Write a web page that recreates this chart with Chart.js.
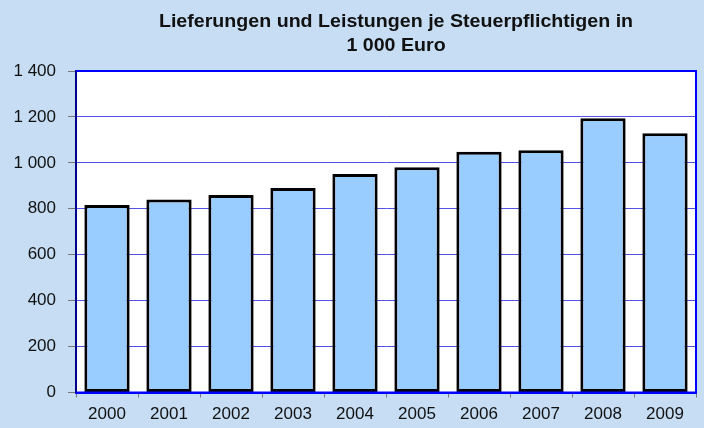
<!DOCTYPE html>
<html>
<head>
<meta charset="utf-8">
<script src="https://cdn.jsdelivr.net/npm/chart.js@4/dist/chart.umd.min.js"></script>
<style>
  html, body { margin: 0; padding: 0; background: #C6DDF3; }
  #wrap { width: 704px; height: 428px; }
</style>
</head>
<body>
<div id="wrap"><canvas id="c" width="704" height="428"></canvas></div>
<script>
const titleLines = ["Lieferungen und Leistungen je Steuerpflichtigen in", "1 000 Euro"];
const years = ["2000","2001","2002","2003","2004","2005","2006","2007","2008","2009"];
const values = [816, 840, 860, 890, 951, 981, 1048, 1055, 1194, 1129];
const yTicks = [0, 200, 400, 600, 800, 1000, 1200, 1400];

const FONT = "'Liberation Sans', Arial, sans-serif";

const bgPlugin = {
  id: 'bg',
  beforeDraw(chart) {
    const ctx = chart.ctx, a = chart.chartArea;
    ctx.save();
    ctx.fillStyle = '#C6DDF3';
    ctx.fillRect(0, 0, chart.width, chart.height);
    ctx.fillStyle = '#FFFFFF';
    ctx.fillRect(a.left, a.top, a.right - a.left, a.bottom - a.top);
    ctx.restore();
  },
  afterDatasetsDraw(chart) {
    const ctx = chart.ctx, a = chart.chartArea;
    ctx.save();
    ctx.strokeStyle = '#0000FF';
    ctx.lineWidth = 2;
    ctx.beginPath();
    ctx.moveTo(a.left, a.top);
    ctx.lineTo(a.right, a.top);
    ctx.lineTo(a.right, a.bottom);
    ctx.lineTo(a.left, a.bottom);
    ctx.stroke();
    ctx.restore();
  },
  afterDraw(chart) {
    const ctx = chart.ctx;
    ctx.save();
    ctx.fillStyle = '#111111';
    ctx.font = "bold 18px " + FONT;
    ctx.textAlign = 'center';
    ctx.textBaseline = 'middle';
    ctx.translate(396, 0);
    ctx.scale(1.09, 1);
    titleLines.forEach((t, i) => ctx.fillText(t, 0, 22 + i * 24));
    ctx.restore();
  }
};

new Chart(document.getElementById('c'), {
  type: 'bar',
  data: {
    labels: years,
    datasets: [{
      data: values,
      backgroundColor: '#99CCFF',
      borderColor: '#000000',
      borderWidth: 3,
      borderSkipped: false,
      categoryPercentage: 1,
      barPercentage: 0.73
    }]
  },
  options: {
    responsive: false,
    animation: false,
    devicePixelRatio: 1,
    layout: { padding: { top: 71, right: 8, left: 0, bottom: 0 } },
    plugins: { legend: { display: false }, title: { display: false }, tooltip: { enabled: false } },
    scales: {
      x: {
        offset: true,
        grid: { display: true, drawOnChartArea: false, drawTicks: true, tickLength: 5, color: '#777777', offset: true },
        border: { display: true, color: '#0000FF', width: 2 },
        ticks: { color: '#111111', font: { family: FONT, size: 17 }, padding: 7, maxRotation: 0 },
        afterFit(s) { s.height = 35.5; }
      },
      y: {
        min: 0, max: 1400,
        afterBuildTicks(s) { s.ticks = yTicks.map(v => ({ value: v })); },
        grid: { color: '#5252E8', lineWidth: 1, tickLength: 8, tickColor: '#777777' },
        border: { display: true, color: '#00008B', width: 2 },
        ticks: {
          color: '#111111', font: { family: FONT, size: 17 }, padding: 12,
          callback: v => String(v).replace(/\B(?=(\d{3})+(?!\d))/g, ' ')
        },
        afterFit(s) { s.width = 76; }
      }
    }
  },
  plugins: [bgPlugin]
});
</script>
</body>
</html>
